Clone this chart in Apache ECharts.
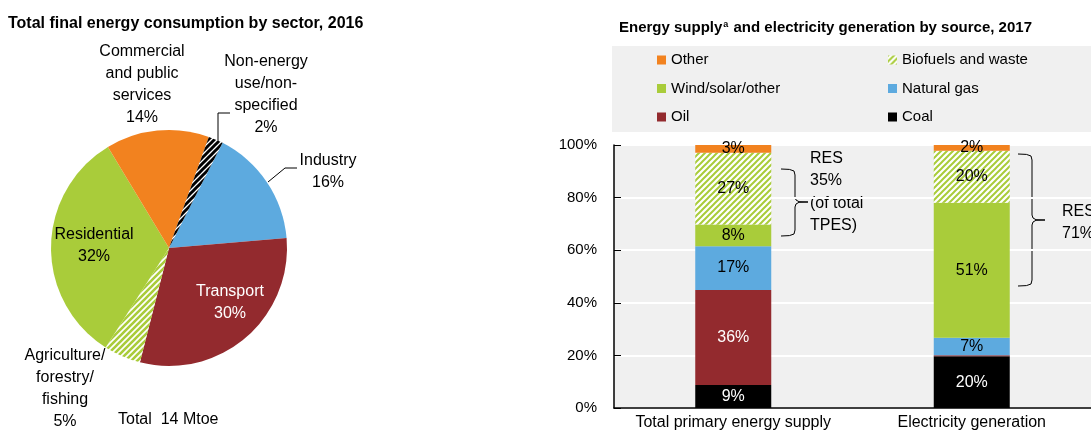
<!DOCTYPE html>
<html>
<head>
<meta charset="utf-8">
<script src="https://cdn.jsdelivr.net/npm/echarts@6/dist/echarts.min.js"></script>
<style>
  html, body { margin: 0; padding: 0; background: #fff; }
  #chart { width: 1091px; height: 433px; }
</style>
</head>
<body>
<div id="chart"></div>
<script>
// 左图：部门终端能源消费（%）
const sectorNames = ['Industry', 'Transport', 'Agriculture/\nforestry/\nfishing', 'Residential', 'Commercial\nand public\nservices', 'Non-energy\nuse/non-\nspecified'];
const sectorValues = [16, 30, 5, 32, 14, 2];

// 右图：能源供应与发电结构（%）
const supplyCategories = ['Total primary energy supply', 'Electricity generation'];
const coalShare = [8.7, 19.7];
const oilShare = [36.2, 0.4];
const gasShare = [16.6, 6.6];
const windShare = [8.3, 51.3];
const bioShare = [27.3, 19.8];
const otherShare = [2.9, 2.2];

const FONT = 'Liberation Sans, Arial, sans-serif';
const ORANGE = '#f2821f', BLUE = '#5daadf', RED = '#932a2e', GREEN = '#a9cc3a';

// 斜线填充图案
function stripes(fg, bg, size, lw) {
    const c = document.createElement('canvas');
    c.width = c.height = size;
    const ctx = c.getContext('2d');
    ctx.fillStyle = bg;
    ctx.fillRect(0, 0, size, size);
    ctx.strokeStyle = fg;
    ctx.lineWidth = lw;
    ctx.beginPath();
    ctx.moveTo(-size / 2, size / 2); ctx.lineTo(size / 2, -size / 2);
    ctx.moveTo(0, size); ctx.lineTo(size, 0);
    ctx.moveTo(size / 2, size * 1.5); ctx.lineTo(size * 1.5, size / 2);
    ctx.stroke();
    return { image: c, repeat: 'repeat' };
}

const bioPattern = stripes(GREEN, '#fff', 6, 2);
const agriPattern = stripes(GREEN, '#fff', 6, 2.6);
const nonEnergyPattern = stripes('#000', '#fff', 6, 3);

const sectorColors = [BLUE, RED, agriPattern, GREEN, ORANGE, nonEnergyPattern];
const sectorLabelColors = ['#000', '#fff', '#000', '#000', '#000', '#000'];
const pieLabelPos = [[328, 172], [230, 303], [65, 389], [94, 246], [142, 85], [266, 95]];
const pieLinePts = [
    [[268, 182], [285, 168], [297, 168]],
    null, null, null, null,
    [[218, 143], [218, 113], [230, 113]]
];

// 花括号（右括号）折线
function brace(xEnd, xMid, yTop, yTip, yBot, tipLen) {
    const w = xMid - xEnd;
    return [
        [xEnd, yTop], [xEnd + w * 0.6, yTop + 0.4], [xMid - 1, yTop + 2], [xMid, yTop + 6],
        [xMid, yTip - 5], [xMid + 1, yTip - 2], [xMid + 4, yTip - 0.3], [xMid + tipLen, yTip],
        [xMid + 4, yTip + 0.3], [xMid + 1, yTip + 2], [xMid, yTip + 5],
        [xMid, yBot - 6], [xMid - 1, yBot - 2], [xEnd + w * 0.6, yBot - 0.4], [xEnd, yBot]
    ];
}

function barLabel(color) {
    return {
        show: true,
        position: 'inside',
        fontSize: 16,
        color: color,
        formatter: p => p.value >= 1 ? Math.round(p.value) + '%' : ''
    };
}

function barSeries(name, values, color, labelColor) {
    return {
        name: name,
        type: 'bar',
        stack: 'total',
        barWidth: 76,
        data: values,
        itemStyle: { color: color },
        label: barLabel(labelColor),
        emphasis: { disabled: true },
        xAxisIndex: 0,
        yAxisIndex: 0
    };
}

const chart = echarts.init(document.getElementById('chart'));
const option = {
    animation: false,
    textStyle: { fontFamily: FONT, color: '#000' },
    title: [
        {
            text: 'Total final energy consumption by sector, 2016',
            left: 8, top: 16, padding: 0,
            textStyle: { fontSize: 16, fontWeight: 'bold', color: '#000', fontFamily: FONT }
        },
        {
            text: '{t|Energy supply}{s|a}{t| and electricity generation by source, 2017}',
            left: 619, top: 20, padding: 0,
            textStyle: {
                rich: {
                    t: { fontSize: 15, fontWeight: 'bold', color: '#000', fontFamily: FONT },
                    s: { fontSize: 9, color: '#000', fontFamily: FONT, padding: [0, 1, 7, 1] }
                }
            }
        },
        {
            text: 'Total  14 Mtoe',
            left: 118, top: 412, padding: 0,
            textStyle: { fontSize: 16, fontWeight: 'normal', color: '#000', fontFamily: FONT }
        }
    ],
    legend: [
        {
            data: ['Other', 'Wind/solar/other', 'Oil'],
            orient: 'vertical', left: 657, top: 51, padding: 0,
            itemWidth: 9, itemHeight: 9, itemGap: 10.5, icon: 'rect',
            textStyle: { fontSize: 15, lineHeight: 18, color: '#000' },
            selectedMode: false
        },
        {
            data: ['Biofuels and waste', 'Natural gas', 'Coal'],
            orient: 'vertical', left: 888, top: 51, padding: 0,
            itemWidth: 9, itemHeight: 9, itemGap: 10.5, icon: 'rect',
            textStyle: { fontSize: 15, lineHeight: 18, color: '#000' },
            selectedMode: false
        }
    ],
    grid: {
        left: 614, top: 145, width: 489, height: 263,
        show: true, backgroundColor: '#f0f0f0', borderWidth: 0
    },
    xAxis: {
        type: 'category',
        data: supplyCategories,
        axisLine: { lineStyle: { color: '#000', width: 1.5 } },
        axisTick: { inside: true, length: 6, lineStyle: { color: '#000' } },
        axisLabel: { interval: 0, fontSize: 16, color: '#000', margin: 7 }
    },
    yAxis: {
        type: 'value',
        min: 0, max: 100, interval: 20,
        axisLabel: { formatter: '{value}%', fontSize: 15, color: '#000', margin: 17 },
        axisLine: { show: true, lineStyle: { color: '#000', width: 1.5 } },
        axisTick: { show: true, inside: true, length: 7, lineStyle: { color: '#000' } },
        splitLine: { lineStyle: { color: '#fff', width: 2 } }
    },
    graphic: [
        {
            type: 'rect', z: -10,
            shape: { x: 612, y: 46, width: 480, height: 86 },
            style: { fill: '#f0f0f0' }
        },
        {
            type: 'polyline',
            shape: { points: brace(781, 795, 169, 202, 236, 13) },
            style: { fill: null, stroke: '#000', lineWidth: 1 }
        },
        {
            type: 'polyline',
            shape: { points: brace(1018, 1032, 154, 220, 286, 13) },
            style: { fill: null, stroke: '#000', lineWidth: 1 }
        },
        {
            type: 'text', left: 810, top: 147,
            style: { text: 'RES\n35%\n(of total\nTPES)', fontSize: 16, fontFamily: FONT, lineHeight: 22.5, fill: '#000' }
        },
        {
            type: 'text', left: 1062, top: 200,
            style: { text: 'RES\n71%', fontSize: 16, fontFamily: FONT, lineHeight: 22.5, fill: '#000' }
        }
    ],
    series: [
        {
            name: 'Sectors',
            type: 'pie',
            center: [169, 248],
            radius: 118,
            startAngle: 63,
            clockwise: true,
            avoidLabelOverlap: false,
            emphasis: { disabled: true },
            itemStyle: { borderWidth: 0 },
            label: {
                show: true,
                position: 'outside',
                fontSize: 16,
                lineHeight: 22,
                color: '#000',
                formatter: p => p.name + '\n' + p.value + '%'
            },
            labelLine: { show: false },
            labelLayout: p => {
                const pos = pieLabelPos[p.dataIndex];
                const out = { x: pos[0], y: pos[1], align: 'center', verticalAlign: 'middle' };
                if (pieLinePts[p.dataIndex]) out.labelLinePoints = pieLinePts[p.dataIndex];
                return out;
            },
            data: sectorNames.map((name, i) => ({
                name: name,
                value: sectorValues[i],
                itemStyle: { color: sectorColors[i] },
                label: { color: sectorLabelColors[i] },
                labelLine: pieLinePts[i]
                    ? { show: true, length: 10, length2: 10, lineStyle: { color: '#000', width: 1 } }
                    : { show: false }
            }))
        },
        barSeries('Coal', coalShare, '#000', '#fff'),
        barSeries('Oil', oilShare, RED, '#fff'),
        barSeries('Natural gas', gasShare, BLUE, '#000'),
        barSeries('Wind/solar/other', windShare, GREEN, '#000'),
        barSeries('Biofuels and waste', bioShare, bioPattern, '#000'),
        barSeries('Other', otherShare, ORANGE, '#000')
    ]
};
chart.setOption(option);
</script>
</body>
</html>
